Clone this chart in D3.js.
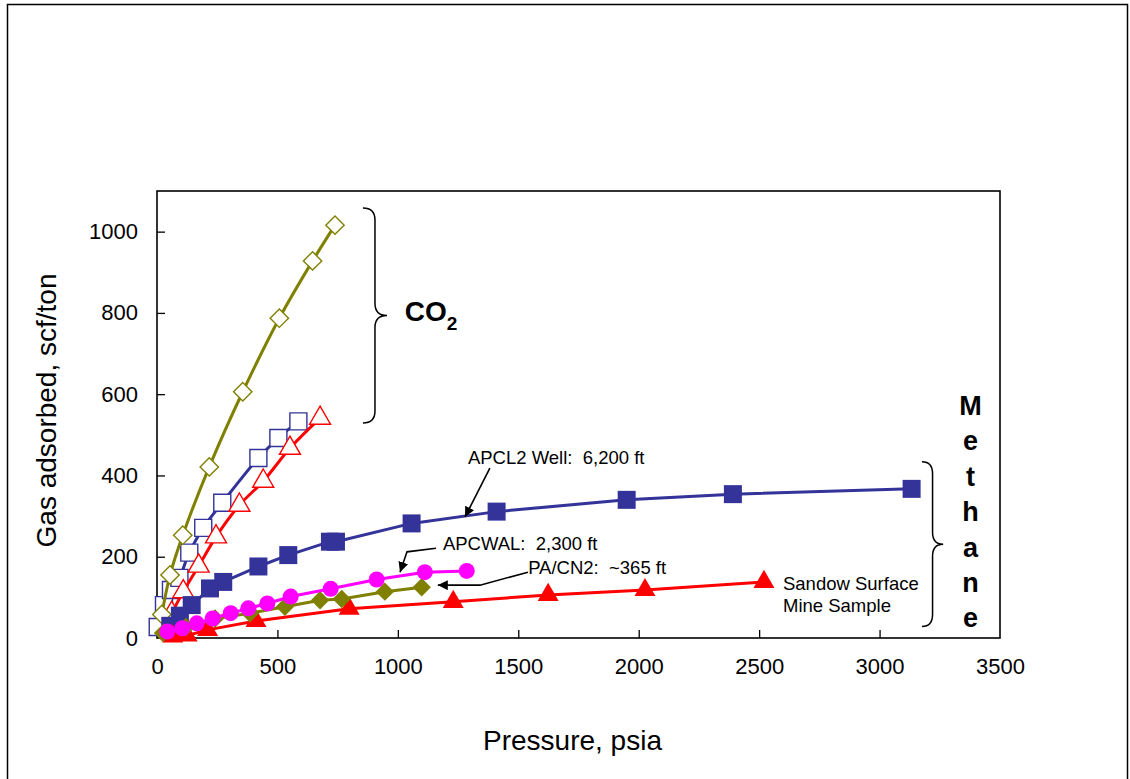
<!DOCTYPE html>
<html>
<head>
<meta charset="utf-8">
<script src="https://cdn.jsdelivr.net/npm/d3@7"></script>
<style>
  html, body { margin: 0; padding: 0; background: #fff; }
  svg text { font-family: Arial, "Liberation Sans", Helvetica, sans-serif; white-space: pre; }
</style>
</head>
<body>
<svg id="chart" width="1130" height="779"></svg>
<script>
// ---- Axis ticks ----
const pressureTicks = [0, 500, 1000, 1500, 2000, 2500, 3000, 3500];
const gasTicks = [0, 200, 400, 600, 800, 1000];

// ---- CO2 isotherms (open markers, smooth lines) ----
const co2SquareP = [3, 29, 58, 93, 134, 192, 271, 421, 504, 587];
const co2SquareV = [27, 81, 118, 148, 210, 271, 333, 443, 492, 533];

const co2TriangleP = [61, 109, 173, 245, 342, 441, 552, 677];
const co2TriangleV = [61, 114, 177, 249, 327, 386, 467, 541];

const co2DiamondP = [20, 54, 107, 217, 356, 508, 646, 739];
const co2DiamondV = [58, 155, 253, 421, 606, 787, 928, 1016];

// ---- Methane isotherms (filled markers) ----
const apcl2P = [55, 95, 144, 220, 275, 421, 545, 718, 743, 1057, 1410, 1950, 2391, 3133];
const apcl2V = [30, 55, 81, 122, 138, 176, 204, 237, 237, 282, 311, 340, 354, 367];

const apcwalP = [43, 105, 165, 231, 306, 379, 458, 555, 721, 912, 1112, 1286];
const apcwalV = [16, 24, 36, 48, 61, 73, 85, 102, 121, 144, 162, 165];

const pacn2P = [25, 120, 241, 386, 531, 677, 767, 946, 1099];
const pacn2V = [12, 27, 48, 61, 77, 93, 96, 114, 125];

const sandowP = [65, 125, 210, 411, 798, 1230, 1624, 2026, 2520];
const sandowV = [4, 6, 20, 42, 72, 89, 106, 118, 138];

// ---- Colours ----
const OLIVE = "#808000", NAVY = "#333399", RED = "#FF0000", MAGENTA = "#FF00FF";

const svg = d3.select("#chart");

// figure border
svg.append("rect")
  .attr("x", 7.5).attr("y", 4.5).attr("width", 1120).attr("height", 800)
  .attr("fill", "none").attr("stroke", "#000").attr("stroke-width", 1.5);

const plot = { left: 157, right: 1000, top: 191, bottom: 638 };
const x = d3.scaleLinear().domain([0, 3500]).range([plot.left, plot.right]);
const y = d3.scaleLinear().domain([0, 1100]).range([plot.bottom, plot.top]);

// plot frame
svg.append("rect")
  .attr("x", plot.left).attr("y", plot.top)
  .attr("width", plot.right - plot.left).attr("height", plot.bottom - plot.top)
  .attr("fill", "none").attr("stroke", "#000").attr("stroke-width", 1.6);

// axes with inward ticks
const xAxis = d3.axisBottom(x).tickValues(pressureTicks).tickSize(-8).tickPadding(20).tickFormat(d3.format("d"));
const gx = svg.append("g").attr("transform", `translate(0,${plot.bottom})`).call(xAxis);
gx.select(".domain").remove();
gx.selectAll(".tick line").attr("stroke", "#000").attr("stroke-width", 1.3)
  .filter(d => d === 0 || d === 3500).remove();
gx.selectAll(".tick text").attr("font-size", 22).attr("fill", "#000")
  .attr("font-family", "Arial, 'Liberation Sans', sans-serif");

const yAxis = d3.axisLeft(y).tickValues(gasTicks).tickSize(-8).tickPadding(19).tickFormat(d3.format("d"));
const gy = svg.append("g").attr("transform", `translate(${plot.left},0)`).call(yAxis);
gy.select(".domain").remove();
gy.selectAll(".tick line").attr("stroke", "#000").attr("stroke-width", 1.3)
  .filter(d => d === 0).remove();
gy.selectAll(".tick text").attr("font-size", 22).attr("fill", "#000")
  .attr("font-family", "Arial, 'Liberation Sans', sans-serif");

// axis titles
svg.append("text")
  .attr("x", (plot.left + plot.right) / 2 - 6).attr("y", 750)
  .attr("text-anchor", "middle").attr("font-size", 28).text("Pressure, psia");
svg.append("text")
  .attr("transform", `translate(56,${(plot.top + plot.bottom) / 2 - 4}) rotate(-90)`)
  .attr("text-anchor", "middle").attr("font-size", 28).text("Gas adsorbed, scf/ton");

// ---- series drawing ----
const zip = (ps, vs) => ps.map((p, i) => ({ p, v: vs[i] }));

function drawSeries(pts, opt) {
  const g = svg.append("g");
  const line = d3.line().x(d => x(d.p)).y(d => y(d.v)).curve(opt.curve || d3.curveLinear);
  g.append("path").datum(pts).attr("d", line)
    .attr("fill", "none").attr("stroke", opt.color).attr("stroke-width", opt.lineWidth || 3)
    .attr("stroke-linejoin", "round").attr("stroke-linecap", "round");
  const sym = d3.symbol().type(opt.symbol).size(opt.size);
  g.selectAll("path.m").data(pts).join("path").attr("class", "m")
    .attr("d", sym)
    .attr("transform", d => `translate(${x(d.p)},${y(d.v)})${opt.rotate ? " rotate(45)" : ""}`)
    .attr("fill", opt.filled ? opt.color : "#fff")
    .attr("stroke", opt.color).attr("stroke-width", opt.filled ? 0 : 1.4);
}

const triSize = Math.sqrt(3) / 4 * 21 * 21;

// CO2 (open)
drawSeries(zip(co2SquareP, co2SquareV), { color: NAVY, symbol: d3.symbolSquare, size: 17 * 17, curve: d3.curveCatmullRom });
drawSeries(zip(co2TriangleP, co2TriangleV), { color: RED, symbol: d3.symbolTriangle, size: triSize, curve: d3.curveCatmullRom });
drawSeries(zip(co2DiamondP, co2DiamondV), { color: OLIVE, symbol: d3.symbolSquare, size: 13 * 13, rotate: true, curve: d3.curveCatmullRom });

// Methane (filled)
drawSeries(zip(apcl2P, apcl2V), { color: NAVY, symbol: d3.symbolSquare, size: 18 * 18, filled: true });
drawSeries(zip(sandowP, sandowV), { color: RED, symbol: d3.symbolTriangle, size: triSize, filled: true });
drawSeries(zip(pacn2P, pacn2V), { color: OLIVE, symbol: d3.symbolSquare, size: 13 * 13, rotate: true, filled: true });
drawSeries(zip(apcwalP, apcwalV), { color: MAGENTA, symbol: d3.symbolCircle, size: Math.PI * 8 * 8, filled: true });

// ---- annotations ----
svg.append("defs").append("marker")
  .attr("id", "arrowhead").attr("viewBox", "0 0 10 10")
  .attr("refX", 10).attr("refY", 5).attr("markerWidth", 10).attr("markerHeight", 10)
  .attr("markerUnits", "userSpaceOnUse").attr("orient", "auto")
  .append("path").attr("d", "M0,0 L10,5 L0,10 Z").attr("fill", "#000");

const labels = [
  { text: "APCL2 Well:  6,200 ft", p: 1291, v: 428 },
  { text: "APCWAL:  2,300 ft", p: 1187, v: 217 },
  { text: "PA/CN2:  ~365 ft", p: 1541, v: 158 },
  { text: "Sandow Surface", p: 2599, v: 118 },
  { text: "Mine Sample", p: 2599, v: 65 }
];
svg.append("g").selectAll("text").data(labels).join("text")
  .attr("x", d => x(d.p)).attr("y", d => y(d.v))
  .attr("font-size", 18.5).attr("fill", "#000").text(d => d.text);

const arrows = [
  [[1382, 418], [1279, 298]],
  [[1158, 221], [1038, 212], [1009, 162]],
  [[1540, 162], [1341, 130], [1166, 130]]
];
const arrowLine = d3.line().x(d => x(d[0])).y(d => y(d[1]));
svg.append("g").selectAll("path").data(arrows).join("path")
  .attr("d", arrowLine).attr("fill", "none").attr("stroke", "#000").attr("stroke-width", 1.6)
  .attr("marker-end", "url(#arrowhead)");

// curly braces grouping the gases
function brace(x0, xt, y0, y1) {
  const xb = (x0 + xt) / 2, ym = (y0 + y1) / 2, r = 12;
  return `M${x0},${y0} Q${xb},${y0} ${xb},${y0 + r} L${xb},${ym - r} Q${xb},${ym} ${xt},${ym}` +
         ` Q${xb},${ym} ${xb},${ym + r} L${xb},${y1 - r} Q${xb},${y1} ${x0},${y1}`;
}
const braces = [
  { p0: 855, pt: 955, v0: 1058, v1: 529 },
  { p0: 3176, pt: 3264, v0: 434, v1: 28 }
];
svg.append("g").selectAll("path").data(braces).join("path")
  .attr("d", d => brace(x(d.p0), x(d.pt), y(d.v0), y(d.v1)))
  .attr("fill", "none").attr("stroke", "#000").attr("stroke-width", 1.5);

// CO2 label
const co2 = svg.append("text").attr("x", x(1029)).attr("y", y(780))
  .attr("font-size", 28).attr("font-weight", "bold");
co2.append("tspan").text("CO");
co2.append("tspan").attr("font-size", 19).attr("dy", 9).text("2");

// Methane label, letters stacked vertically
const methane = "Methane".split("");
svg.append("g").selectAll("text").data(methane).join("text")
  .attr("x", x(3378)).attr("y", (d, i) => y(551) + 1 + i * 35.4)
  .attr("text-anchor", "middle").attr("font-size", 27).attr("font-weight", "bold")
  .text(d => d);
</script>
</body>
</html>
